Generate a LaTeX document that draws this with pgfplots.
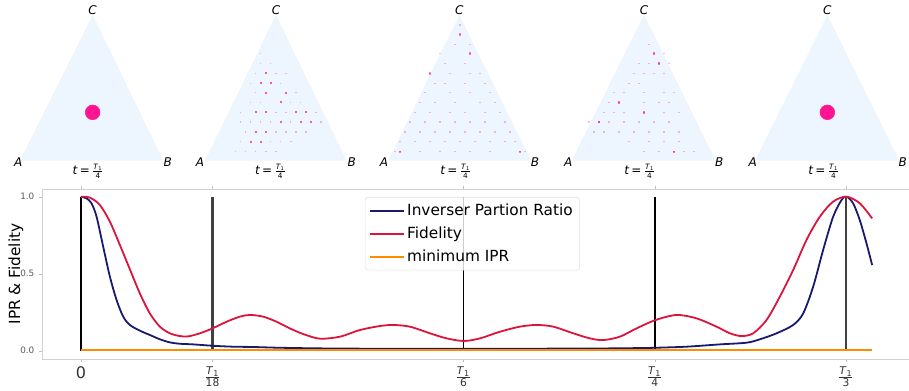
\documentclass[border=0pt]{standalone}
\usepackage{pgfplots}
\pgfplotsset{compat=1.18}
\usepackage{fontspec}
\setmainfont{DejaVu Sans}
\definecolor{triblue}{RGB}{237,245,254}
\definecolor{dpink}{RGB}{255,20,147}
\definecolor{navyc}{RGB}{25,25,112}
\definecolor{crim}{RGB}{220,20,60}
\definecolor{dorange}{RGB}{255,140,0}
\newcommand{\frT}[2]{${\hbox{\fontsize{#1}{#1}\selectfont\textit{T}\textsubscript{1}}\over\hbox{\fontsize{#1}{#1}\selectfont #2}}$}
\newcommand{\tlab}{\textit{t}\,=\,\frT{5.5}{4}}
\tikzset{lab/.style={font=\fontsize{9}{9}\selectfont}}
\pgfplotsset{
  tri/.style={scale only axis, height=135pt, ymin=-540, ymax=0, axis lines=none, ticks=none, clip=false, anchor=south west},
  strong/.style={only marks, mark=square*, mark size=0.65pt, dpink, opacity=0.7, draw opacity=0},
  faint/.style={only marks, mark=square*, mark size=0.55pt, dpink, opacity=0.3, draw opacity=0},
}
\begin{document}
\begin{tikzpicture}
\path[use as bounding box] (0,0) rectangle (681.75pt,292.5pt);
% ---------- triangle 1 ----------
\begin{axis}[tri, at={(0pt,157.5pt)}, width=142.5pt, xmin=0, xmax=570]
\addplot[fill=triblue, draw=none] coordinates {(60,-482)(490,-482)(278,-45)} -- cycle;
\addplot[only marks, mark=*, mark size=5.5pt, dpink] coordinates {(278,-337)};
\node[lab] at (axis cs:278,-30) {\textit{C}};
\node[lab] at (axis cs:55,-487) {\textit{A}};
\node[lab] at (axis cs:503,-487) {\textit{B}};
\node[lab] at (axis cs:265,-514) {\tlab};
\end{axis}
% ---------- triangle 2 ----------
\begin{axis}[tri, at={(142.5pt,157.5pt)}, width=135pt, xmin=0, xmax=540]
\addplot[fill=triblue, draw=none] coordinates {(45,-482)(470,-482)(258,-45)} -- cycle;
\addplot[strong] coordinates {(228,-220)(212,-250)(242,-250)(228,-278)(288,-278)(272,-307)(197,-337)(228,-337)(318,-337)(348,-337)(272,-366)(333,-366)(363,-366)(197,-396)(228,-396)(182,-425)(212,-425)};
\addplot[faint] coordinates {(212,-160)(212,-190)(242,-190)(197,-220)(258,-220)(288,-220)(182,-250)(272,-250)(197,-278)(318,-278)(182,-307)(212,-307)(302,-307)(332,-307)(152,-337)(258,-337)(288,-337)(378,-337)(152,-366)(182,-366)(212,-366)(242,-366)(302,-366)(393,-366)(167,-396)(258,-396)(288,-396)(318,-396)(348,-396)(152,-425)(242,-425)(272,-425)(303,-425)(137,-455)(167,-455)(197,-455)(228,-455)(258,-455)};
\node[lab] at (axis cs:258,-30) {\textit{C}};
\node[lab] at (axis cs:30,-487) {\textit{A}};
\node[lab] at (axis cs:485,-487) {\textit{B}};
\node[lab] at (axis cs:242,-514) {\tlab};
\end{axis}
% ---------- triangle 3 ----------
\begin{axis}[tri, at={(277.5pt,157.5pt)}, width=135pt, xmin=0, xmax=540]
\addplot[fill=triblue, draw=none] coordinates {(55,-482)(483,-482)(268,-45)} -- cycle;
\addplot[faint, opacity=0.5] coordinates {(270,-103)(90,-455)(450,-455)(300,-160)(180,-220)};
\addplot[faint] coordinates {(270,-75)(255,-133)(300,-133)(210,-160)(225,-190)(285,-190)(240,-220)(300,-220)(330,-220)(195,-250)(225,-250)(285,-250)(345,-250)(165,-278)(240,-278)(300,-278)(360,-278)(150,-307)(195,-307)(255,-307)(330,-307)(375,-307)(135,-337)(180,-337)(240,-337)(285,-337)(345,-337)(390,-337)(120,-366)(165,-366)(210,-366)(255,-366)(300,-366)(345,-366)(405,-366)(105,-396)(150,-396)(195,-396)(240,-396)(285,-396)(330,-396)(375,-396)(420,-396)(90,-425)(135,-425)(180,-425)(225,-425)(270,-425)(315,-425)(360,-425)(405,-425)(435,-425)(75,-455)(150,-455)(210,-455)(255,-455)(300,-455)(360,-455)(465,-455)};
\node[lab] at (axis cs:268,-30) {\textit{C}};
\node[lab] at (axis cs:42,-487) {\textit{A}};
\node[lab] at (axis cs:495,-487) {\textit{B}};
\node[lab] at (axis cs:258,-514) {\tlab};
\end{axis}
% ---------- triangle 4 ----------
\begin{axis}[tri, at={(412.5pt,157.5pt)}, width=135pt, xmin=0, xmax=540]
\addplot[fill=triblue, draw=none] coordinates {(65,-482)(497,-482)(282,-45)} -- cycle;
\addplot[faint, opacity=0.6] coordinates {(327,-190)(312,-160)(147,-366)(372,-455)(282,-337)(207,-307)};
\addplot[faint] coordinates {(297,-133)(342,-160)(267,-190)(297,-190)(357,-190)(252,-220)(282,-220)(312,-220)(342,-220)(237,-250)(267,-250)(192,-278)(222,-278)(282,-278)(342,-278)(372,-278)(177,-307)(282,-307)(327,-307)(357,-307)(162,-337)(192,-337)(222,-337)(342,-337)(387,-337)(117,-366)(177,-366)(222,-366)(267,-366)(312,-366)(357,-366)(132,-396)(162,-396)(207,-396)(252,-396)(297,-396)(342,-396)(387,-396)(237,-425)(297,-425)(342,-425)(387,-425)(282,-455)(327,-455)(402,-455)(432,-455)};
\node[lab] at (axis cs:282,-30) {\textit{C}};
\node[lab] at (axis cs:55,-487) {\textit{A}};
\node[lab] at (axis cs:508,-487) {\textit{B}};
\node[lab] at (axis cs:270,-514) {\tlab};
\end{axis}
% ---------- triangle 5 ----------
\begin{axis}[tri, at={(547.5pt,157.5pt)}, width=134.25pt, xmin=0, xmax=537]
\addplot[fill=triblue, draw=none] coordinates {(75,-482)(508,-482)(292,-45)} -- cycle;
\addplot[only marks, mark=*, mark size=5.5pt, dpink] coordinates {(292,-337)};
\node[lab] at (axis cs:292,-30) {\textit{C}};
\node[lab] at (axis cs:68,-487) {\textit{A}};
\node[lab] at (axis cs:518,-487) {\textit{B}};
\node[lab] at (axis cs:282,-514) {\tlab};
\end{axis}
% ---------- main plot ----------
\begin{axis}[at={(31.5pt,23.25pt)}, anchor=south west, scale only axis,
  width=650.25pt, height=127.5pt,
  xmin=-0.61, xmax=12.99, ymin=-0.054, ymax=1.05,
  axis line style={draw=none},
  xtick={0,2.065,6,9,12},
  xticklabels={{\fontsize{12}{12}\selectfont 0},\frT{8}{18},\frT{8}{6},\frT{8}{4},\frT{8}{3}},
  xticklabel style={text=black!80},
  ytick={0,0.5,1}, yticklabels={0.0,0.5,1.0},
  yticklabel style={font=\fontsize{6.6}{7}\selectfont, text=black!65},
  tick style={black!25}, tick align=outside, major tick length=2.25pt,
  ylabel={IPR \& Fidelity},
  ylabel style={at={(axis description cs:-0.0302,0.5)}, anchor=center, font=\fontsize{11.5}{12}\selectfont},
  legend style={at={(axis description cs:0.3725,0.953)}, anchor=north west,
    fill=white, fill opacity=0.8, text opacity=1, draw=black!12, rounded corners=2pt,
    font=\fontsize{11.5}{13}\selectfont, row sep=3pt, inner sep=3pt,
    /tikz/every even column/.append style={column sep=4pt}},
  legend cell align=left,
  legend image code/.code={\draw[#1, line width=1.5pt] (0pt,0pt) -- (25pt,0pt);},
]
\draw[black!18, line width=0.6pt] (rel axis cs:1,0) -- (rel axis cs:0,0) -- (rel axis cs:0,1) -- (rel axis cs:1,1);
\addplot[black, line width=1.4pt, forget plot] coordinates {(0,0)(0,1)};
\addplot[black!75, line width=1.6pt, forget plot] coordinates {(2.065,0)(2.065,1)};
\addplot[black, line width=1.3pt, forget plot] coordinates {(6,0)(6,1)};
\addplot[black, line width=1.3pt, forget plot] coordinates {(9,0)(9,1)};
\addplot[black!75, line width=1.6pt, forget plot] coordinates {(12,0)(12,1)};
\addplot[navyc, line width=1.35pt, smooth] coordinates {(0,1.0)(0.089,0.989)(0.167,0.957)(0.246,0.870)(0.350,0.675)(0.455,0.481)(0.560,0.329)(0.664,0.221)(0.769,0.167)(0.925,0.130)(1.082,0.102)(1.239,0.074)(1.396,0.054)(1.553,0.045)(1.762,0.041)(2.065,0.032)(2.39,0.026)(2.70,0.024)(3.12,0.019)(3.75,0.015)(4.5,0.013)(5.5,0.012)(6.0,0.012)(7.0,0.013)(8.0,0.014)(8.769,0.017)(9.014,0.019)(9.501,0.026)(10.024,0.041)(10.443,0.052)(10.651,0.074)(10.913,0.113)(11.173,0.167)(11.330,0.242)(11.487,0.416)(11.643,0.654)(11.800,0.870)(11.931,0.978)(12.009,1.0)(12.113,0.957)(12.218,0.848)(12.323,0.697)(12.412,0.556)};
\addlegendentry{Inverser Partion Ratio}
\addplot[crim, line width=1.35pt, smooth] coordinates {(0,1.0)(0.141,0.994)(0.298,0.946)(0.455,0.838)(0.612,0.686)(0.769,0.528)(0.925,0.372)(1.082,0.242)(1.239,0.156)(1.396,0.113)(1.553,0.095)(1.684,0.093)(1.867,0.113)(2.065,0.145)(2.285,0.188)(2.494,0.221)(2.651,0.232)(2.860,0.221)(3.069,0.188)(3.278,0.145)(3.488,0.108)(3.749,0.078)(4.063,0.091)(4.376,0.134)(4.690,0.160)(4.899,0.167)(5.161,0.156)(5.475,0.113)(5.737,0.080)(6.008,0.063)(6.259,0.080)(6.573,0.123)(6.886,0.156)(7.148,0.167)(7.409,0.156)(7.723,0.113)(7.984,0.080)(8.194,0.069)(8.455,0.091)(8.716,0.145)(9.014,0.199)(9.344,0.232)(9.657,0.210)(9.971,0.156)(10.180,0.113)(10.363,0.095)(10.546,0.113)(10.755,0.199)(10.964,0.351)(11.173,0.524)(11.382,0.719)(11.591,0.870)(11.800,0.968)(12.009,1.0)(12.218,0.957)(12.412,0.859)};
\addlegendentry{Fidelity}
\addplot[dorange, line width=1.35pt] coordinates {(0,0.002)(12.412,0.002)};
\addlegendentry{minimum IPR}
\end{axis}
\end{tikzpicture}
\end{document}
